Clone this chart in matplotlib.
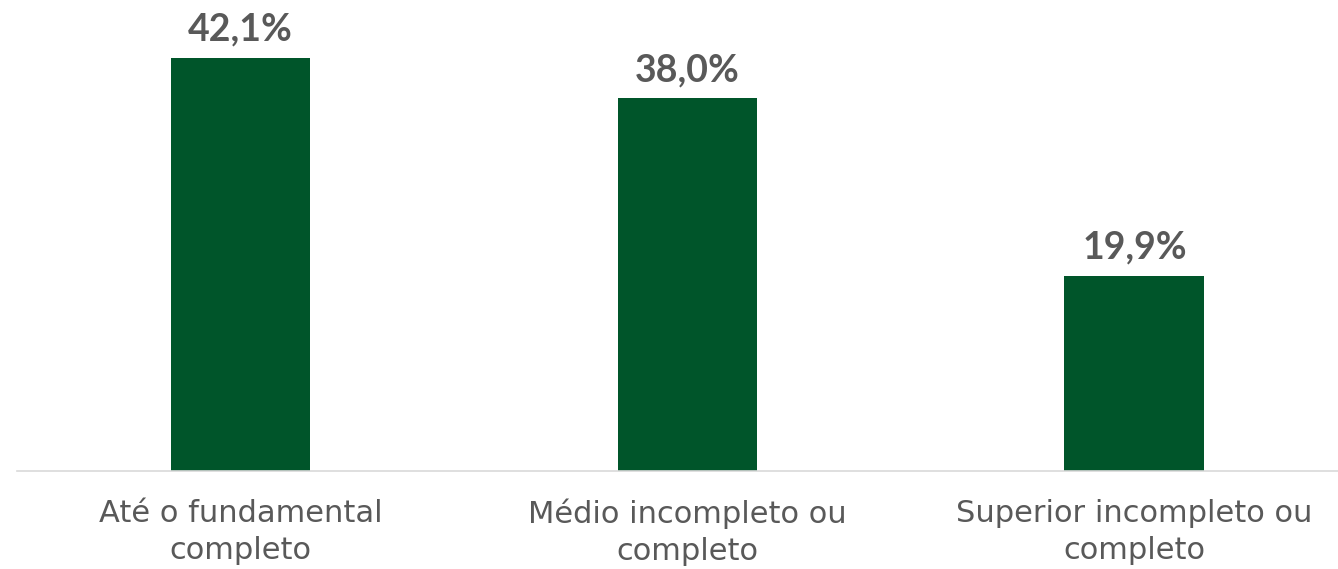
import matplotlib
matplotlib.use("Agg")
import matplotlib.pyplot as plt

plt.rcParams["font.family"] = ["DejaVu Sans"]

# dados
categorias = ["Até o fundamental\ncompleto", "Médio incompleto ou\ncompleto", "Superior incompleto ou\ncompleto"]
valores = [42.1, 38.0, 19.9]
rotulos = ["42,1%", "38,0%", "19,9%"]

cor_barra = "#00552A"
cor_texto = "#595959"

fig = plt.figure(figsize=(13.38, 5.69), dpi=100)
# eixo um pouco mais largo que a figura, como no original
ax = fig.add_axes([0.0127, 0.1722, 1.0022, 0.8278])

x = range(len(categorias))
rects = ax.bar(x, valores, width=0.313, color=cor_barra)
ax.bar_label(rects, labels=rotulos, padding=8, fontsize=27, fontweight="bold",
             color=cor_texto, family=["Lato", "DejaVu Sans"])

ax.set_xlim(-0.5, len(categorias) - 0.5)
ax.set_ylim(0, 48)
ax.set_xticks(list(x))
ax.set_xticklabels(categorias, fontsize=22, color=cor_texto, linespacing=1.35)
ax.tick_params(axis="x", length=0, pad=20)
ax.set_yticks([])

for lado in ["top", "right", "left"]:
    ax.spines[lado].set_visible(False)
ax.spines["bottom"].set_color("#D9D9D9")
ax.spines["bottom"].set_linewidth(1.2)

fig.savefig("out.png", dpi=100)
